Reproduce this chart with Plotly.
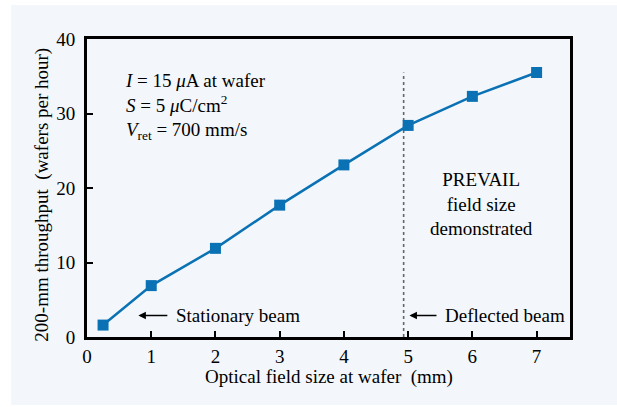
import plotly.graph_objects as go

# ---- data ----
field_size_mm = [0.25, 1, 2, 3, 4, 5, 6, 7]
throughput_wph = [1.6, 6.9, 11.9, 17.7, 23.1, 28.4, 32.3, 35.5]
x_ticks = [0, 1, 2, 3, 4, 5, 6, 7]
y_ticks = [0, 10, 20, 30, 40]
boundary_x = [4.93, 4.93]
boundary_y = [0, 35.5]

FONT = "Liberation Serif"
FS = 19
BG = "#f3f7fb"
BLUE = "#0a72b4"

fig = go.Figure()

fig.add_trace(go.Scatter(
    x=boundary_x, y=boundary_y, mode="lines",
    line=dict(color="#666666", width=1.6, dash="dot"),
    showlegend=False, hoverinfo="skip"))

fig.add_trace(go.Scatter(
    x=field_size_mm, y=throughput_wph, mode="lines+markers",
    line=dict(color=BLUE, width=2.5),
    marker=dict(symbol="square", size=11, color=BLUE),
    showlegend=False, cliponaxis=False))

annotations = [
    dict(xref="paper", yref="paper", x=0.075, y=0.775, xanchor="left", yanchor="middle",
         align="left", showarrow=False,
         text="<i>I</i> = 15 <i>μ</i>A at wafer<br><i>S</i> = 5 <i>μ</i>C/cm<sup>2</sup><br>"
              "<i>V</i><sub>ret</sub> = 700 mm/s"),
    dict(x=6.14, y=17.9, xref="x", yref="y", showarrow=False, align="center",
         text="PREVAIL<br>field size<br>demonstrated"),
    dict(x=0.80, y=2.9, xref="x", yref="y", ax=1.36, ay=2.9, axref="x", ayref="y",
         xanchor="left", text="Stationary beam", showarrow=True, arrowhead=2, arrowsize=1,
         arrowwidth=1.5, arrowcolor="black", startstandoff=7),
    dict(x=5.02, y=2.9, xref="x", yref="y", ax=5.55, ay=2.9, axref="x", ayref="y",
         xanchor="left", text="Deflected beam", showarrow=True, arrowhead=2, arrowsize=1,
         arrowwidth=1.5, arrowcolor="black", startstandoff=7),
    dict(xref="paper", yref="paper", x=0.5, y=-0.134, xanchor="center", yanchor="middle",
         showarrow=False, text="Optical field size at wafer &nbsp;(mm)"),
    dict(xref="paper", yref="paper", x=-0.0938, y=0.4765, xanchor="center", yanchor="middle",
         showarrow=False, textangle=-90, text="200-mm throughput &nbsp;(wafers per hour)"),
]

axis_common = dict(ticks="inside", ticklen=6, tickwidth=2, tickcolor="black",
                   showline=True, linecolor="black", linewidth=3, mirror=True,
                   showgrid=False, zeroline=False, automargin=False,
                   tickfont=dict(family=FONT, size=FS, color="black"))

fig.update_layout(
    width=617, height=407,
    margin=dict(l=87, r=47, t=39, b=70),
    paper_bgcolor="white", plot_bgcolor=BG,
    font=dict(family=FONT, size=FS, color="black"),
    annotations=annotations,
    shapes=[dict(type="rect", xref="paper", yref="paper",
                 x0=-0.157, x1=1.2, y0=-0.228, y1=1.114,
                 fillcolor=BG, line=dict(width=0), layer="below")],
    xaxis=dict(range=[0, 7.52], tickvals=x_ticks, **axis_common),
    yaxis=dict(range=[0, 40], tickvals=y_ticks, ticklabelstandoff=5, **axis_common),
)

fig.write_html("out.html", config={"displayModeBar": False},
               post_script="document.body.style.margin='0';document.body.style.overflow='hidden';")
